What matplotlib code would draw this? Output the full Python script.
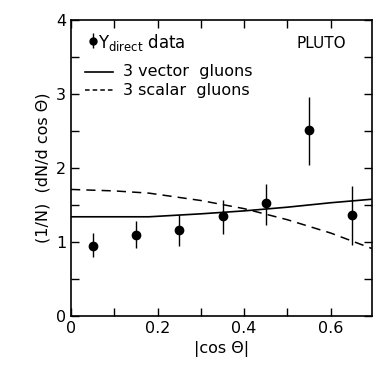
import numpy as np
import matplotlib.pyplot as plt
from matplotlib.ticker import MultipleLocator

# data points
cos_x = [0.05, 0.15, 0.25, 0.35, 0.45, 0.55, 0.65]
dn = [0.95, 1.10, 1.16, 1.35, 1.52, 2.52, 1.36]
err_up = [0.17, 0.18, 0.20, 0.22, 0.26, 0.44, 0.39]
err_dn = [0.15, 0.18, 0.21, 0.24, 0.29, 0.48, 0.40]

# model curves
curve_x = [0.0, 0.1, 0.18, 0.3, 0.4, 0.5, 0.6, 0.7]
vector_y = [1.34, 1.34, 1.34, 1.38, 1.42, 1.47, 1.53, 1.58]
scalar_y = [1.71, 1.69, 1.66, 1.56, 1.45, 1.30, 1.12, 0.90]

fig = plt.figure(figsize=(3.76, 3.66), dpi=100)
ax = fig.add_axes([0.189, 0.137, 0.8, 0.808])

ax.errorbar(cos_x, dn, yerr=[err_dn, err_up], fmt='o', color='black',
            ms=6, elinewidth=1.0, capsize=0)
ax.plot(curve_x, vector_y, color='black', lw=1.2)
ax.plot(curve_x, scalar_y, color='black', lw=1.1, ls=(0, (6, 4)))

ax.set_xlim(0, 0.695)
ax.set_ylim(0, 4)
ax.xaxis.set_major_locator(MultipleLocator(0.2))
ax.xaxis.set_minor_locator(MultipleLocator(0.1))
ax.yaxis.set_major_locator(MultipleLocator(1))
ax.yaxis.set_minor_locator(MultipleLocator(0.5))
ax.tick_params(which='both', direction='in', top=True, right=True,
               labelsize=11.5, width=1.0, length=6)
ax.set_xticks([0, 0.2, 0.4, 0.6])
ax.set_xticklabels(['0', '0.2', '0.4', '0.6'])
for s in ax.spines.values():
    s.set_linewidth(1.2)

ax.set_xlabel('|cos \u0398|', fontsize=11.5)
ax.set_ylabel('(1/N)  (dN/d cos \u0398)', fontsize=11.5)

# legend drawn as text
ax.errorbar([0.05], [3.72], yerr=[[0.1], [0.1]], fmt='o', color='black',
            ms=5, elinewidth=1.0, capsize=0)
ax.text(0.062, 3.70, r'$\Upsilon_{\rm direct}$ data', fontsize=12, va='center')
ax.text(0.636, 3.69, 'PLUTO', fontsize=11, va='center', ha='right')
ax.plot([0.032, 0.097], [3.30, 3.30], color='black', lw=1.2)
ax.text(0.12, 3.30, '3 vector  gluons', fontsize=11.5, va='center')
ax.plot([0.032, 0.097], [3.05, 3.05], color='black', lw=1.1, ls=(0, (3, 2)))
ax.text(0.12, 3.05, '3 scalar  gluons', fontsize=11.5, va='center')

fig.savefig('out.png', dpi=100)
